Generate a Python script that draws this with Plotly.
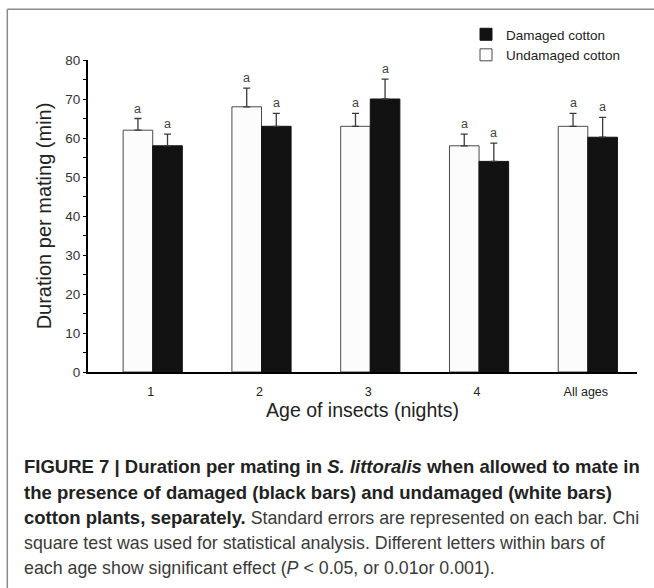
import plotly.graph_objects as go

# ---------------- data ----------------
ages = ["1", "2", "3", "4", "All ages"]
undamaged = [62, 68, 63, 58, 63]
undamaged_se = [3.0, 4.8, 3.3, 3.0, 3.3]
damaged = [58, 63, 70, 54, 60.2]
damaged_se = [3.0, 3.3, 5.1, 4.7, 5.1]
undamaged_letters = ["a", "a", "a", "a", "a"]
damaged_letters = ["a", "a", "a", "a", "a"]
y_ticks = [0, 10, 20, 30, 40, 50, 60, 70, 80]

BOLD = '<span style="font-size:18.5px">'
REG = '<span style="font-size:17.8px;color:#3a3a3a">'
caption_lines = [
    BOLD + "<b>FIGURE 7 | Duration per mating in <i>S. littoralis</i> when allowed to mate in</b></span>",
    BOLD + "<b>the presence of damaged (black bars) and undamaged (white bars)</b></span>",
    BOLD + "<b>cotton plants, separately.</b></span>" + REG + " Standard errors are represented on each bar. Chi</span>",
    REG + "square test was used for statistical analysis. Different letters within bars of</span>",
    REG + "each age show significant effect (<i>P</i> &lt; 0.05, or 0.01or 0.001).</span>",
]

# ---------------- layout helpers ----------------
W_FIG, H_FIG = 654, 588
L, R, T, B = 88, 17, 60, 216
PW = W_FIG - L - R
PH = H_FIG - T - B
BAR_W = 0.272
FONT = "Liberation Sans, Arial, Helvetica, sans-serif"


def px2x(px):
    return (px - L) / PW


def py2y(py):
    return (T + PH - py) / PH


fig = go.Figure()
zeros = [0] * len(ages)

fig.add_trace(go.Bar(
    name="Undamaged cotton", x=ages, y=undamaged,
    width=BAR_W, offset=-BAR_W,
    marker=dict(color="#fcfcfc", line=dict(color="#4a4a4a", width=1)),
    error_y=dict(type="data", array=undamaged_se, arrayminus=zeros, symmetric=False,
                 color="#3a3a3a", thickness=1.3, width=3.5),
))
fig.add_trace(go.Bar(
    name="Damaged cotton", x=ages, y=damaged,
    width=BAR_W, offset=0,
    marker=dict(color="#121212", line=dict(color="#121212", width=1)),
    error_y=dict(type="data", array=damaged_se, arrayminus=zeros, symmetric=False,
                 color="#3a3a3a", thickness=1.3, width=3.5),
))

annotations = []
for i in range(len(ages)):
    annotations.append(dict(x=i - BAR_W / 2, y=undamaged[i] + undamaged_se[i], xref="x", yref="y",
                            text=undamaged_letters[i], showarrow=False, yshift=10,
                            font=dict(size=12.5, color="#444", family=FONT)))
    annotations.append(dict(x=i + BAR_W / 2, y=damaged[i] + damaged_se[i], xref="x", yref="y",
                            text=damaged_letters[i], showarrow=False, yshift=10,
                            font=dict(size=12.5, color="#444", family=FONT)))

caption_y = [466, 492, 517.5, 543, 568]
for line, yy in zip(caption_lines, caption_y):
    annotations.append(dict(x=px2x(22), y=py2y(yy), xref="paper", yref="paper",
                            xanchor="left", yanchor="middle", text=line, showarrow=False,
                            font=dict(size=18, color="#222", family=FONT)))

shapes = [
    dict(type="line", xref="paper", yref="paper", x0=px2x(7.3), y0=py2y(9.3), x1=px2x(660), y1=py2y(9.3),
         line=dict(color="#8a8a8a", width=1.5)),
    dict(type="line", xref="paper", yref="paper", x0=px2x(7.3), y0=py2y(9.3), x1=px2x(7.3), y1=py2y(600),
         line=dict(color="#8a8a8a", width=1.5)),
]

fig.update_layout(
    width=W_FIG, height=H_FIG,
    margin=dict(l=L, r=R, t=T, b=B),
    paper_bgcolor="white", plot_bgcolor="white",
    barmode="overlay",
    font=dict(family=FONT, color="#222"),
    showlegend=True,
    legend=dict(x=px2x(466), y=py2y(19), xanchor="left", yanchor="top",
                traceorder="reversed", bgcolor="rgba(0,0,0,0)",
                font=dict(size=13.5, color="#222", family=FONT), tracegroupgap=0),
    xaxis=dict(range=[-0.595, 4.452], showline=True, linecolor="black", linewidth=2,
               ticks="", showgrid=False, zeroline=False, ticklabelstandoff=7, ticklabelshift=-2,
               tickfont=dict(size=12.5, color="#222", family=FONT),
               title=dict(text="Age of insects (nights)", font=dict(size=19.5, color="#222", family=FONT),
                          standoff=2)),
    yaxis=dict(range=[0, 80], tickvals=y_ticks, showline=True, linecolor="black", linewidth=2,
               ticks="outside", ticklen=3, tickwidth=1.3, tickcolor="black",
               minor=dict(dtick=5, tick0=0, ticks="outside", ticklen=3, tickwidth=1.3, tickcolor="black"),
               showgrid=False, zeroline=False,
               tickfont=dict(size=13.5, color="#333", family=FONT),
               title=dict(text="Duration per mating (min)", font=dict(size=20, color="#222", family=FONT),
                          standoff=8)),
    annotations=annotations,
    shapes=shapes,
)

fig.write_html("out.html")
